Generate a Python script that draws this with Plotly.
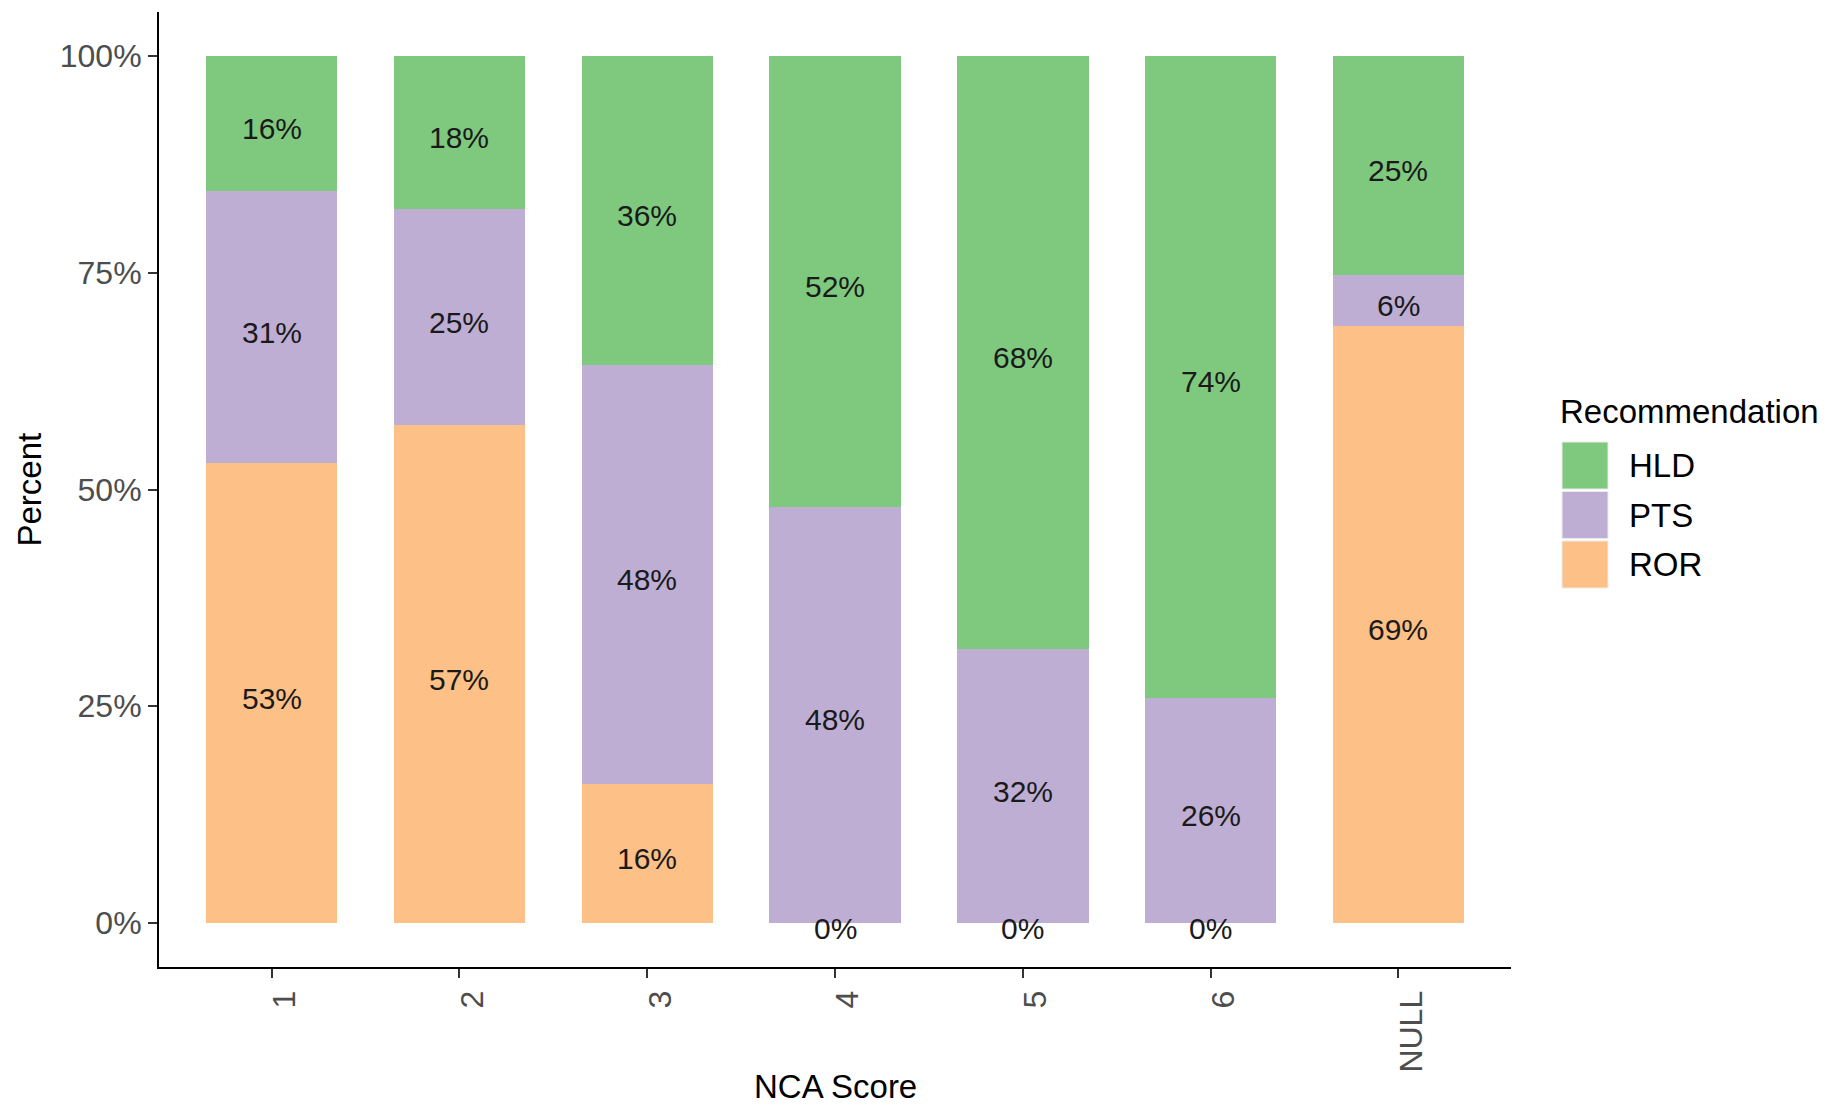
import plotly.graph_objects as go

# NCA score categories and share of each recommendation (percent)
categories = ["1", "2", "3", "4", "5", "6", "NULL"]
ror = [53.0, 57.4, 16.0, 0.0, 0.0, 0.0, 68.9]
pts = [31.4, 24.9, 48.4, 48.0, 31.6, 26.0, 5.8]
hld = [15.6, 17.7, 35.6, 52.0, 68.4, 74.0, 25.3]
y_ticks = [0, 25, 50, 75, 100]
y_tick_labels = ["0%", "25%", "50%", "75%", "100%"]

series = [("ROR", ror, "#FDC086"), ("PTS", pts, "#BEAED4"), ("HLD", hld, "#7FC97F")]

W, H = 1830, 1108
L, R, T, B = 159, 1511, 12, 967  # plot area in pixels


def px(x):
    return (x - L) / (R - L)


def py(y):
    return (B - y) / (B - T)


font = dict(family="Liberation Sans, Arial", size=33, color="black")
tickfont = dict(family="Liberation Sans, Arial", size=32, color="#4D4D4D")
labelfont = dict(family="Liberation Sans, Arial", size=30, color="#1a1a1a")

fig = go.Figure()
base = [0.0] * len(categories)
for name, vals, color in series:
    fig.add_trace(go.Bar(x=categories, y=vals, name=name, marker_color=color,
                         marker_line_width=0, width=0.7, showlegend=False))
    # percentage labels centred in each segment (like position_stack(vjust = 0.5))
    # x is the category index, since labels like "1" would be read as positions
    for i, v in enumerate(vals):
        fig.add_annotation(x=i, y=base[i] + v / 2, text=f"{round(v)}%",
                           showarrow=False, font=labelfont, yshift=-5)
        base[i] += v

fig.update_layout(
    width=W, height=H, barmode="stack",
    margin=dict(l=L, r=W - R, t=T, b=H - B),
    plot_bgcolor="white", paper_bgcolor="white",
    font=font,
)
fig.update_xaxes(type="category", range=[-0.6, 6.6], showgrid=False, zeroline=False,
                 showline=True, linecolor="black", linewidth=2,
                 ticks="outside", ticklen=9, tickwidth=1.5, tickcolor="#333333",
                 tickangle=-90, tickfont=tickfont, ticklabelshift=13, automargin=False)
fig.update_yaxes(range=[-5.07, 105.07], tickvals=y_ticks, ticktext=y_tick_labels,
                 showgrid=False, zeroline=False,
                 showline=True, linecolor="black", linewidth=2,
                 ticks="outside", ticklen=9, tickwidth=1.5, tickcolor="#333333",
                 tickfont=tickfont, automargin=False)

# axis titles
fig.add_annotation(text="Percent", textangle=-90, x=px(29), y=0.5, xref="paper", yref="paper",
                   showarrow=False, font=font, xanchor="center", yanchor="middle")
fig.add_annotation(text="NCA Score", x=0.5, y=py(1086), xref="paper", yref="paper",
                   showarrow=False, font=font, xanchor="center", yanchor="middle")

# legend drawn by hand (ggplot-like square keys)
fig.add_annotation(text="Recommendation", x=px(1558), y=py(411), xref="paper", yref="paper",
                   showarrow=False, font=font, xanchor="left", yanchor="middle")
key_top = 442
for name, vals, color in reversed(series):
    fig.add_shape(type="rect", xref="paper", yref="paper",
                  x0=px(1562), x1=px(1608), y0=py(key_top), y1=py(key_top + 47),
                  fillcolor=color, line=dict(color="#EBEBEB", width=1))
    fig.add_annotation(text=name, x=px(1627), y=py(key_top + 23.5), xref="paper", yref="paper",
                       showarrow=False, font=font, xanchor="left", yanchor="middle")
    key_top += 49.5

fig.write_html("out.html", config={"displayModeBar": False},
               post_script="document.body.style.margin='0px';")
